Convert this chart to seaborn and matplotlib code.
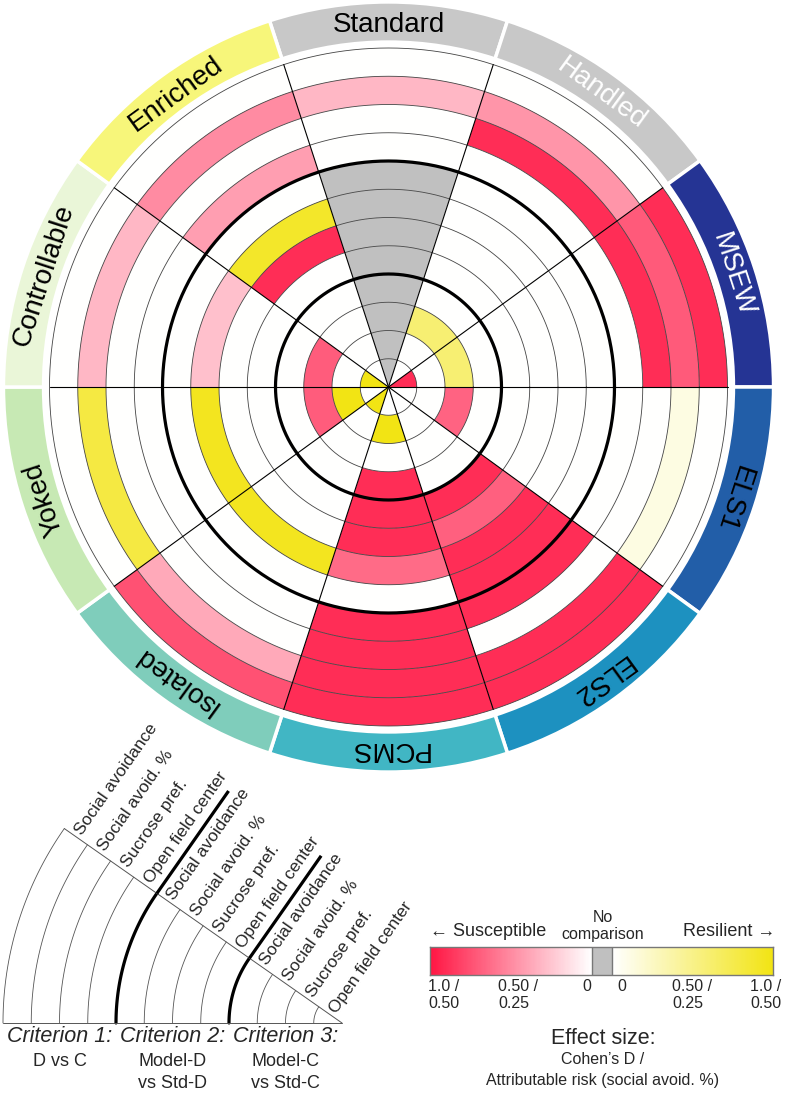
import numpy as np
import matplotlib
matplotlib.use("Agg")
import matplotlib.pyplot as plt
import seaborn as sns
from matplotlib.colors import LinearSegmentedColormap

sns.set_theme(style="white")
plt.rcParams["font.family"] = ["Liberation Sans", "DejaVu Sans"]

# ---------------- data ----------------
models = ["Standard", "Handled", "MSEW", "ELS1", "ELS2",
          "PCMS", "Isolated", "Yoked", "Controllable", "Enriched"]
band_colors = ["#c8c8c8", "#c8c8c8", "#253494", "#225ea8", "#1d91c0",
               "#41b6c4", "#7fcdbb", "#c7e9b4", "#eaf6d8", "#f7f67a"]
label_colors = ["black", "white", "white", "black", "black",
                "black", "black", "black", "black", "black"]
measures = ["Social avoidance", "Social avoid. %", "Sucrose pref.", "Open field center"]
criteria = ["Criterion 1:", "Criterion 2:", "Criterion 3:"]
criteria_sub = [["D vs C"], ["Model-D", "vs Std-D"], ["Model-C", "vs Std-C"]]

nan = np.nan
# effect size on legend scale: -1 = susceptible, +1 = resilient, nan = no comparison
# per model: [social avoidance, social avoid. %, sucrose pref., open field center]
crit1 = [[0, -0.31, 0, 0],
         [0, -0.46, -0.9, 0],
         [-0.9, -0.71, -0.9, 0],
         [0, 0.12, 0, 0],
         [-0.9, -0.9, 0, -0.9],
         [-0.9, -0.9, -0.9, -0.9],
         [-0.75, -0.37, 0, 0],
         [0, 0.8, 0, 0],
         [0, -0.31, 0, 0],
         [0, -0.5, 0, -0.42]]
crit2 = [[nan, nan, nan, nan],
         [0, 0, 0, 0],
         [0, 0, 0, 0],
         [0, 0, 0, 0],
         [-0.9, -0.9, -0.68, -0.9],
         [0, -0.64, -0.9, -0.9],
         [0, 0.95, 0, 0],
         [0, 0.95, 0, 0],
         [0, -0.27, 0, 0],
         [0, 0.9, -0.9, 0]]
crit3 = [[nan, nan, nan, nan],
         [0, 0.6, 0, 0],
         [0, 0.6, 0, -0.9],
         [0, -0.67, 0, 0],
         [0, 0, 0, 0],
         [-0.9, 0, 1.0, 0],
         [0, 0, 0, 1.0],
         [0, -0.7, 1.0, 0],
         [0, -0.7, 0, 1.0],
         [0, 0, 0, 0]]

cmap = LinearSegmentedColormap.from_list("effect", ["#ff1744", "#ffffff", "#f2e414"])
NO_COMP = "#c0c0c0"

# ---------------- main polar chart ----------------
W, H = 800, 1105
U = 28.25                      # pixels per ring
R_MAX = 13.75
CX, CY = 388.5, 387
side = 2 * R_MAX * U

fig = plt.figure(figsize=(W / 100, H / 100), dpi=100)
ax = fig.add_axes([(CX - side / 2) / W, (H - CY - side / 2) / H, side / W, side / H],
                  projection="polar")
ax.set_ylim(0, R_MAX)
ax.set_axis_off()

n = len(models)
width = 2 * np.pi / n
theta = np.deg2rad(90 - 36 * np.arange(n))

for g, crit in enumerate([crit1, crit2, crit3]):
    vals = np.array(crit, dtype=float)
    for m in range(4):
        bottom = 12 - 4 * g - m - 1
        cols = [NO_COMP if np.isnan(v) else cmap((v + 1) / 2) for v in vals[:, m]]
        ax.bar(theta, 1, width=width, bottom=bottom, color=cols,
               edgecolor="none", align="center")

t = np.linspace(0, 2 * np.pi, 721)
for r in range(1, 13):
    thick = r in (4, 8)
    ax.plot(t, np.full_like(t, r), color="black" if thick else "#444444",
            lw=2.3 if thick else 0.6)
for a in theta + width / 2:
    ax.plot([a, a], [0, 12], color="black", lw=0.8)

band_in, band_out = 12.21, 13.63
ax.bar(theta, band_out - band_in, width=width, bottom=band_in, color=band_colors,
       edgecolor="white", linewidth=2.5, align="center")
for th, name, tc in zip(theta, models, label_colors):
    ax.text(th, (band_in + band_out) / 2, name, rotation=np.rad2deg(th) - 90,
            rotation_mode="anchor", ha="center", va="center_baseline",
            fontsize=20, color=tc)

# ---------------- legend overlay (pixel coords) ----------------
lax = fig.add_axes([0, 0, 1, 1], zorder=-1)
lax.set_xlim(0, W)
lax.set_ylim(H, 0)
lax.set_axis_off()

LX, LY = 342, 1023
a0, a1 = np.deg2rad(145), np.deg2rad(180)
arc = np.linspace(a0, a1, 100)
for r in range(1, 13):
    thick = r in (4, 8)
    lax.plot(LX + r * U * np.cos(arc), LY - r * U * np.sin(arc),
             color="black" if thick else "#555555", lw=2.3 if thick else 0.6)
for a in (a0, a1):
    lax.plot([LX, LX + 12 * U * np.cos(a)], [LY, LY - 12 * U * np.sin(a)],
             color="#555555", lw=0.7)
tang = np.deg2rad(55)
for r in (4, 8):
    x0, y0 = LX + r * U * np.cos(a0), LY - r * U * np.sin(a0)
    lax.plot([x0, x0 + 125 * np.cos(tang)], [y0, y0 - 125 * np.sin(tang)],
             color="black", lw=2.3, solid_capstyle="butt")
for k in range(12):
    r = 12 - k - 0.5
    x = LX + r * U * np.cos(a0) + 4 * np.cos(tang)
    y = LY - r * U * np.sin(a0) - 4 * np.sin(tang)
    lax.text(x, y, measures[k % 4], rotation=55, rotation_mode="anchor",
             ha="left", va="center", fontsize=12.5)
for g in range(3):
    xc = LX - (10 - 4 * g) * U
    lax.text(xc, 1037, criteria[g], style="italic", ha="center", va="center", fontsize=15.5)
    for j, line in enumerate(criteria_sub[g]):
        lax.text(xc, 1062 + 21 * j, line, ha="center", va="center", fontsize=13)

# ---------------- colour scale ----------------
BX0, BX1, BY0, BY1 = 430, 773, 947, 975
cax = fig.add_axes([BX0 / W, (H - BY1) / H, (BX1 - BX0) / W, (BY1 - BY0) / H])
grad = np.concatenate([np.linspace(-1, 0, 162), np.full(20, np.nan),
                       np.linspace(0, 1, 161)])[None, :]
sns.heatmap(grad, cmap=cmap, vmin=-1, vmax=1, cbar=False,
            xticklabels=False, yticklabels=False, ax=cax)
cax.set_facecolor(NO_COMP)
for s in cax.spines.values():
    s.set_visible(True)
    s.set_color("#777777")
    s.set_linewidth(1)
cax.axvline(162, color="#777777", lw=1)
cax.axvline(182, color="#777777", lw=1)

lax.text(430, 932, "\u2190 Susceptible", ha="left", va="center", fontsize=13)
lax.text(775, 932, "Resilient \u2192", ha="right", va="center", fontsize=13)
lax.text(603, 917, "No", ha="center", va="center", fontsize=11.5)
lax.text(603, 935, "comparison", ha="center", va="center", fontsize=11.5)
for xt, txt in [(428, "1.0 /\n0.50"), (498, "0.50 /\n0.25"), (582, "0"),
                (617, "0"), (672, "0.50 /\n0.25"), (750, "1.0 /\n0.50")]:
    lax.text(xt, 979, txt, ha="left", va="top", fontsize=11.5, linespacing=1.15)
lax.text(603, 1038, "Effect size:", ha="center", va="center", fontsize=15.5)
lax.text(603, 1059, "Cohen\u2019s D /", ha="center", va="center", fontsize=11.5)
lax.text(603, 1080, "Attributable risk (social avoid. %)", ha="center", va="center", fontsize=11.5)

fig.savefig("out.png", dpi=100)
